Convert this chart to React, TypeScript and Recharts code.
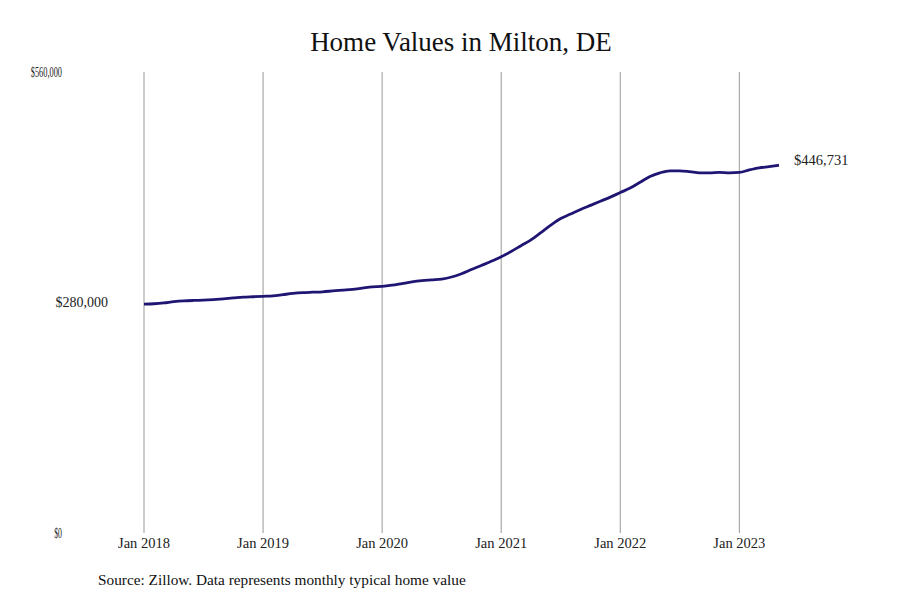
import React from "react";
import {
  LineChart,
  Line,
  XAxis,
  YAxis,
  CartesianGrid,
  LabelList,
} from "recharts";

// Monthly typical home value, Jan 2018 – May 2023
const values2018 = [278000, 278500, 279500, 281000, 282000, 282500, 282800, 283500, 284500, 285500, 286500, 287000];
const values2019 = [287500, 288000, 289500, 291000, 292000, 292500, 293000, 294000, 295000, 296000, 297500, 299000];
const values2020 = [299500, 301000, 303000, 305000, 306500, 307500, 308500, 311000, 315000, 320000, 325000, 330000];
const values2021 = [335500, 342000, 349000, 356000, 365000, 374000, 382000, 387500, 393000, 398000, 403000, 408000];
const values2022 = [413500, 419000, 426000, 433000, 437500, 440000, 440000, 439000, 437500, 437500, 438000, 437500];
const values2023 = [438000, 441000, 443500, 445000, 446731];

const yearTicks = [0, 12, 24, 36, 48, 60];
const yearLabels = ["Jan 2018", "Jan 2019", "Jan 2020", "Jan 2021", "Jan 2022", "Jan 2023"];
const valueTicks = [0, 280000, 560000];

const allValues = [...values2018, ...values2019, ...values2020, ...values2021, ...values2022, ...values2023];
const data = allValues.map((v, i) => ({ month: i, value: v }));

const fmt = (v: number) => "$" + v.toLocaleString("en-US");
const FONT = "'Liberation Serif', 'Times New Roman', serif";

function YTick(props: any) {
  const { y, payload } = props;
  const mid = payload.value === 280000;
  const label = fmt(payload.value);
  // the outer labels are set in a narrower face in the original
  return (
    <text
      x={mid ? 108 : 62}
      y={y}
      dy="0.355em"
      textAnchor="end"
      fontFamily={FONT}
      fontSize={mid ? 14 : 14}
      fill="#222"
      {...(mid ? {} : { textLength: label.length * 3.9, lengthAdjust: "spacingAndGlyphs" })}
    >
      {label}
    </text>
  );
}

function XTick(props: any) {
  const { x, y, payload } = props;
  const idx = yearTicks.indexOf(payload.value);
  return (
    <text x={x} y={y} dy="0.71em" textAnchor="middle" fontFamily={FONT} fontSize={14.5} fill="#222">
      {yearLabels[idx]}
    </text>
  );
}

function EndLabel(props: any) {
  const { x, y, index, value } = props;
  if (index !== data.length - 1) return null;
  return (
    <text x={x + 15} y={y - 5} dy="0.355em" fontFamily={FONT} fontSize={14.5} fill="#222">
      {fmt(value)}
    </text>
  );
}

export default function App() {
  return (
    <div style={{ position: "absolute", left: 0, top: 0, width: 900, height: 600, background: "#fff" }}>
      <div
        style={{
          position: "absolute",
          top: 27,
          left: 144,
          width: 634,
          textAlign: "center",
          fontFamily: FONT,
          fontSize: 27,
          color: "#111",
        }}
      >
        Home Values in Milton, DE
      </div>
      <LineChart width={900} height={600} data={data} margin={{ top: 72, right: 121, bottom: 37, left: 0 }}>
        <CartesianGrid horizontal={false} verticalValues={yearTicks} stroke="#999" strokeWidth={1} />
        <XAxis
          dataKey="month"
          type="number"
          domain={[0, 64]}
          ticks={yearTicks}
          axisLine={false}
          tickLine={false}
          tickSize={5}
          tickMargin={0}
          height={30}
          tick={<XTick />}
        />
        <YAxis
          type="number"
          domain={[0, 560000]}
          ticks={valueTicks}
          axisLine={false}
          tickLine={false}
          width={144}
          tick={<YTick />}
        />
        <Line
          type="monotone"
          dataKey="value"
          stroke="#1f1673"
          strokeWidth={2.8}
          dot={false}
          isAnimationActive={false}
        >
          <LabelList dataKey="value" content={<EndLabel />} />
        </Line>
      </LineChart>
      <div
        style={{
          position: "absolute",
          top: 571,
          left: 98,
          fontFamily: FONT,
          fontSize: 15.3,
          color: "#111",
        }}
      >
        Source: Zillow. Data represents monthly typical home value
      </div>
    </div>
  );
}
